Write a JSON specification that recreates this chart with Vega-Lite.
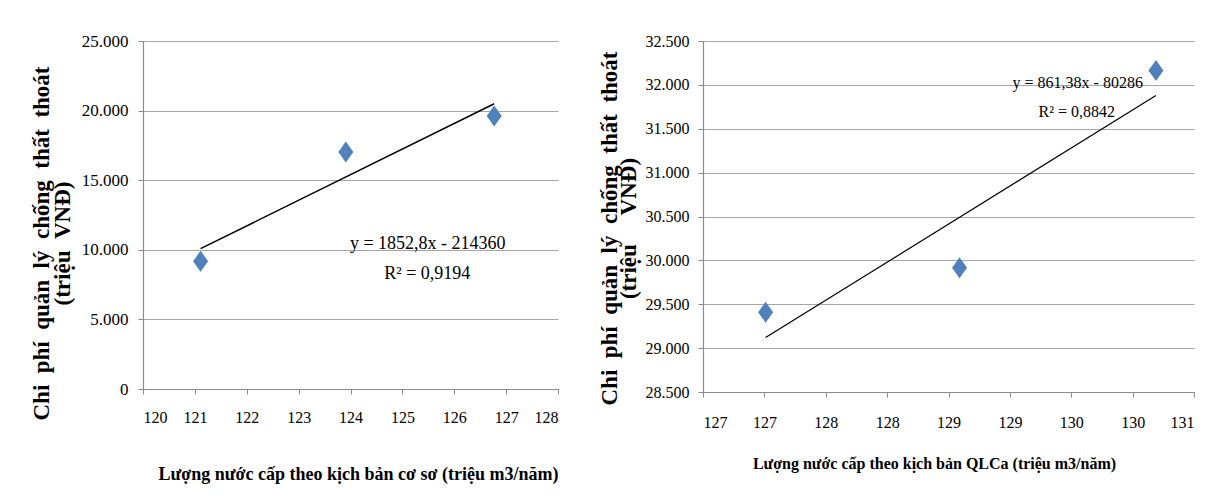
{
  "$schema": "https://vega.github.io/schema/vega-lite/v6.json",
  "background": "white",
  "padding": {"left": 30, "top": 32, "right": 5, "bottom": 5},
  "spacing": 145,
  "bounds": "flush",
  "datasets": {
    "base": [
      {"x": 121.11, "y": 9180},
      {"x": 123.91, "y": 17020},
      {"x": 126.77, "y": 19610}
    ],
    "qlca": [
      {"x": 127.01, "y": 29410},
      {"x": 128.59, "y": 29915},
      {"x": 130.19, "y": 32165}
    ],
    "eqBase": [
      {"x": 125.49, "y": 10400, "label": "y = 1852,8x - 214360"},
      {"x": 125.48, "y": 8250, "label": "R² = 0,9194"}
    ],
    "eqQ": [
      {"x": 129.553, "y": 32020, "label": "y = 861,38x - 80286"},
      {"x": 129.545, "y": 31690, "label": "R² = 0,8842"}
    ]
  },
  "hconcat": [
    {
      "width": 415,
      "height": 348,
      "layer": [
        {
          "data": {"name": "base"},
          "mark": {"type": "point", "shape": "M0,-1L0.714,0L0,1L-0.714,0Z", "filled": true, "size": 441, "color": "#4F81BD", "opacity": 1},
          "encoding": {
            "x": {"field": "x", "type": "quantitative",
              "scale": {"domain": [120, 128], "nice": false, "zero": false},
              "axis": {"title": "Lượng nước cấp theo kịch bản cơ sơ (triệu m3/năm)", "values": [120,121,122,123,124,125,126,127,128], "format": "d", "grid": false, "labelFont": "Liberation Serif", "labelFontSize": 16, "tickSize": 5, "labelPadding": 15, "titleFontSize": 18, "titleAnchor": "end", "titlePadding": 40}},
            "y": {"field": "y", "type": "quantitative",
              "scale": {"domain": [0, 25000], "nice": false, "zero": false},
              "axis": {"title": ["Chi\u00a0\u00a0phí\u00a0\u00a0quản\u00a0\u00a0lý\u00a0\u00a0chống\u00a0\u00a0thất\u00a0\u00a0thoát", "(triệu\u00a0\u00a0VNĐ)"], "values": [0,5000,10000,15000,20000,25000], "labelExpr": "replace(format(datum.value, ','), ',', '.')", "grid": true, "labelFont": "Liberation Serif", "labelFontSize": 17, "tickSize": 5, "labelPadding": 10, "titleFontSize": 23, "titleLineHeight": 21, "titlePadding": 7, "titleY": 202}}
          }
        },
        {
          "data": {"name": "base"},
          "transform": [{"regression": "y", "on": "x"}],
          "mark": {"type": "line", "color": "black", "strokeWidth": 1.5},
          "encoding": {
            "x": {"field": "x", "type": "quantitative"},
            "y": {"field": "y", "type": "quantitative"}
          }
        },
        {
          "data": {"name": "eqBase"},
          "mark": {"type": "text", "font": "Liberation Serif", "fontSize": 18, "baseline": "middle", "align": "center", "color": "black"},
          "encoding": {
            "x": {"field": "x", "type": "quantitative"},
            "y": {"field": "y", "type": "quantitative"},
            "text": {"field": "label"}
          }
        }
      ]
    },
    {
      "width": 491,
      "height": 351,
      "layer": [
        {
          "data": {"name": "qlca"},
          "mark": {"type": "point", "shape": "M0,-1L0.714,0L0,1L-0.714,0Z", "filled": true, "size": 441, "color": "#4F81BD", "opacity": 1},
          "encoding": {
            "x": {"field": "x", "type": "quantitative",
              "scale": {"domain": [126.5, 130.5], "nice": false, "zero": false},
              "axis": {"title": "Lượng nước cấp theo kịch bản QLCa (triệu m3/năm)", "values": [126.5,127,127.5,128,128.5,129,129.5,130,130.5], "format": ".0f", "grid": false, "labelFont": "Liberation Serif", "labelFontSize": 16, "tickSize": 5, "labelPadding": 17, "titleFontSize": 16, "titleAnchor": "middle", "titleX": 231, "titleAlign": "center", "titlePadding": 25}},
            "y": {"field": "y", "type": "quantitative",
              "scale": {"domain": [28500, 32500], "nice": false, "zero": false},
              "axis": {"title": ["Chi\u00a0\u00a0phí\u00a0\u00a0quản\u00a0\u00a0lý\u00a0\u00a0chống\u00a0\u00a0thất\u00a0\u00a0thoát", "(triệu\u00a0\u00a0\u00a0\u00a0\u00a0VNĐ)"], "values": [28500,29000,29500,30000,30500,31000,31500,32000,32500], "labelExpr": "replace(format(datum.value, ','), ',', '.')", "grid": true, "labelFont": "Liberation Serif", "labelFontSize": 16, "tickSize": 5, "labelPadding": 9, "titleFontSize": 23, "titleLineHeight": 19, "titlePadding": 5, "titleY": 187}}
          }
        },
        {
          "data": {"name": "qlca"},
          "transform": [{"regression": "y", "on": "x"}],
          "mark": {"type": "line", "color": "black", "strokeWidth": 1.2},
          "encoding": {
            "x": {"field": "x", "type": "quantitative"},
            "y": {"field": "y", "type": "quantitative"}
          }
        },
        {
          "data": {"name": "eqQ"},
          "mark": {"type": "text", "font": "Liberation Serif", "fontSize": 16, "baseline": "middle", "align": "center", "color": "black"},
          "encoding": {
            "x": {"field": "x", "type": "quantitative"},
            "y": {"field": "y", "type": "quantitative"},
            "text": {"field": "label"}
          }
        }
      ]
    }
  ],
  "config": {
    "view": {"stroke": null},
    "axis": {
      "labelFont": "Liberation Serif",
      "titleFont": "Liberation Serif",
      "titleFontWeight": "bold",
      "labelColor": "black",
      "titleColor": "black",
      "domainColor": "#8c8c8c",
      "tickColor": "#8c8c8c",
      "gridColor": "#a6a6a6",
      "gridWidth": 1.2,
      "domainWidth": 1.2
    }
  }
}
